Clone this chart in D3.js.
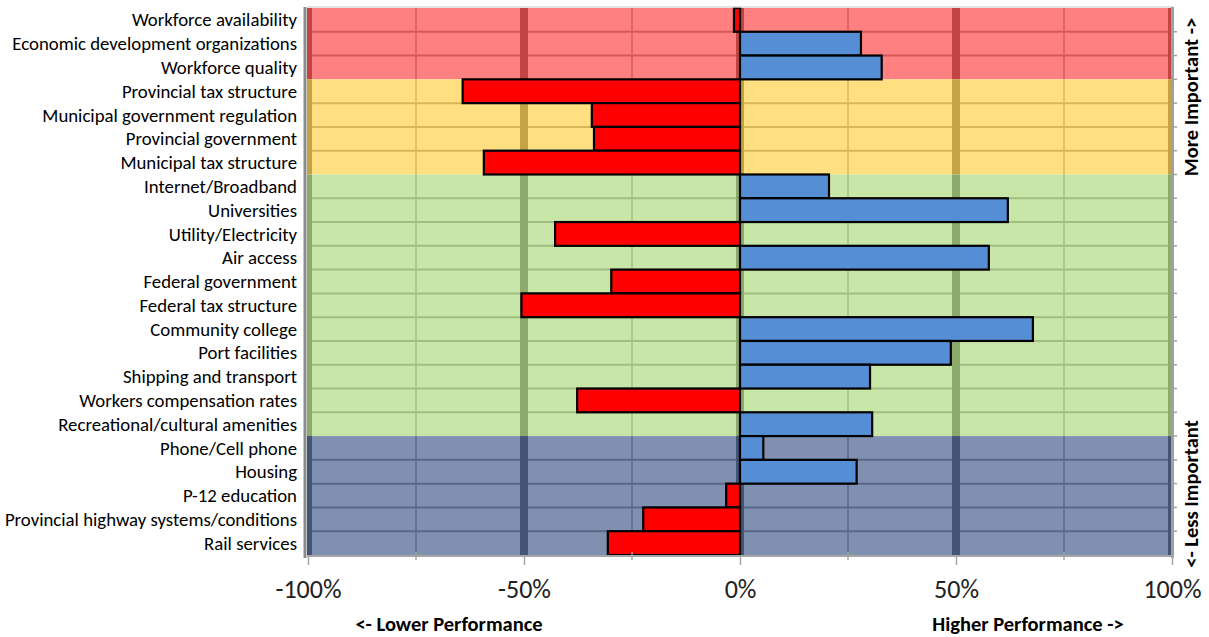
<!DOCTYPE html>
<html>
<head>
<meta charset="utf-8">
<script src="https://cdn.jsdelivr.net/npm/d3@7"></script>
<style>
  html, body { margin: 0; padding: 0; background: #fff; }
  svg { display: block; }
  text { font-family: "Carlito", "Open Sans", sans-serif; }
</style>
</head>
<body>
<svg id="chart" width="1209" height="637"></svg>
<script>
// Site-selection factors, ordered from most to least important
const categories = [
  "Workforce availability",
  "Economic development organizations",
  "Workforce quality",
  "Provincial tax structure",
  "Municipal government regulation",
  "Provincial government",
  "Municipal tax structure",
  "Internet/Broadband",
  "Universities",
  "Utility/Electricity",
  "Air access",
  "Federal government",
  "Federal tax structure",
  "Community college",
  "Port facilities",
  "Shipping and transport",
  "Workers compensation rates",
  "Recreational/cultural amenities",
  "Phone/Cell phone",
  "Housing",
  "P-12 education",
  "Provincial highway systems/conditions",
  "Rail services"
];

// Net performance rating (percent)
const performance = [
  -1.4, 28.0, 32.8, -64.2, -34.3, -33.8, -59.3, 20.6, 62.0, -42.8, 57.6, -29.8,
  -50.6, 67.8, 48.8, 30.1, -37.7, 30.6, 5.4, 27.0, -3.2, -22.4, -30.6
];

// Importance tiers: number of factors in each tier, top to bottom
const tierSizes = [3, 4, 11, 5];

const xTicks = [-100, -50, 0, 50, 100];
const xMinorTicks = [-75, -25, 25, 75];
const xTickLabels = ["-100%", "-50%", "0%", "50%", "100%"];

// Styling
const tierFill = ["#FF8080", "#FFDF80", "#C8E6A8", "#8090B1"];
const negFill = "#FF0000";
const posFill = "#558ED5";

const svg = d3.select("#chart");
const plotL = 307, plotR = 1171, plotT = 8, plotB = 555;

const x = d3.scaleLinear().domain([-100, 100]).range([308, 1172]);
const y = d3.scaleBand().domain(categories).range([plotT, plotB]).padding(0);
const rowH = y.bandwidth();

const shade = (c, k) => {
  const r = d3.rgb(c);
  return d3.rgb(Math.max(0, r.r - k), Math.max(0, r.g - k), Math.max(0, r.b - k)).formatHex();
};

// Plot clip
svg.append("defs").append("clipPath").attr("id", "plot")
  .append("rect").attr("x", plotL).attr("y", plotT).attr("width", plotR - plotL).attr("height", plotB - plotT);

const plot = svg.append("g").attr("clip-path", "url(#plot)");

// Tier background bands with their own tinted grid
let start = 0;
tierSizes.forEach((n, i) => {
  const rows = categories.slice(start, start + n);
  const y0 = y(rows[0]);
  const y1 = y(rows[rows.length - 1]) + rowH;
  const g = plot.append("g");
  g.append("rect")
    .attr("x", plotL).attr("y", y0).attr("width", plotR - plotL).attr("height", y1 - y0)
    .attr("fill", tierFill[i]);
  // minor vertical gridlines
  g.selectAll("line.minor").data(xMinorTicks).join("line").attr("class", "minor")
    .attr("x1", d => x(d)).attr("x2", d => x(d))
    .attr("y1", y0).attr("y2", y1)
    .attr("stroke", shade(tierFill[i], 35)).attr("stroke-width", 1.6);
  // row separators
  g.selectAll("line.row").data(rows.slice(1)).join("line").attr("class", "row")
    .attr("x1", plotL).attr("x2", plotR)
    .attr("y1", d => y(d)).attr("y2", d => y(d))
    .attr("stroke", shade(tierFill[i], 40)).attr("stroke-width", 2);
  // major vertical gridlines
  g.selectAll("line.major").data(xTicks).join("line").attr("class", "major")
    .attr("x1", d => x(d)).attr("x2", d => x(d))
    .attr("y1", y0).attr("y2", y1)
    .attr("stroke", shade(tierFill[i], 60)).attr("stroke-width", 8);
  start += n;
});

// Performance bars
svg.append("g").selectAll("rect").data(categories).join("rect")
  .attr("x", (d, i) => x(Math.min(0, performance[i])))
  .attr("y", d => y(d))
  .attr("width", (d, i) => Math.abs(x(performance[i]) - x(0)))
  .attr("height", rowH)
  .attr("fill", (d, i) => performance[i] < 0 ? negFill : posFill)
  .attr("stroke", "#000").attr("stroke-width", 2.2);

// Frame lines
svg.append("line").attr("x1", plotL).attr("x2", plotR + 2).attr("y1", plotT - 1).attr("y2", plotT - 1)
  .attr("stroke", "#d9d9d9").attr("stroke-width", 1.5);
svg.append("line").attr("x1", 305).attr("x2", 305).attr("y1", plotT - 1).attr("y2", plotB + 3)
  .attr("stroke", "#8c8c8c").attr("stroke-width", 3);
svg.append("line").attr("x1", plotR + 1.5).attr("x2", plotR + 1.5).attr("y1", plotT - 1).attr("y2", plotB + 3)
  .attr("stroke", "#a0a0a0").attr("stroke-width", 3);
// right axis ticks at row boundaries
svg.append("g").selectAll("line").data(categories.slice(1)).join("line")
  .attr("x1", plotR + 3).attr("x2", plotR + 6)
  .attr("y1", d => y(d)).attr("y2", d => y(d))
  .attr("stroke", "#a0a0a0").attr("stroke-width", 1.5);

// Bottom axis
const xAxis = d3.axisBottom(x).tickValues(xTicks)
  .tickFormat((d, i) => xTickLabels[i]).tickSize(9);
const ax = svg.append("g").attr("transform", `translate(0,${plotB + 1})`).call(xAxis);
ax.select(".domain").attr("stroke", "#a6a6a6").attr("stroke-width", 2)
  .attr("d", `M${plotL},0H${plotR + 3}`);
ax.selectAll(".tick line").attr("stroke", "#a6a6a6").attr("stroke-width", 1.5);
ax.selectAll(".tick text").attr("y", 42).attr("dy", 0)
  .attr("font-size", 26).attr("fill", "#222")
  .style("font-family", "Carlito, 'Open Sans', sans-serif");
ax.selectAll("line.minorTick").data(xMinorTicks).join("line")
  .attr("class", "minorTick")
  .attr("x1", d => x(d)).attr("x2", d => x(d)).attr("y1", -4).attr("y2", 4)
  .attr("stroke", "#a6a6a6").attr("stroke-width", 1.5);

// Category labels
svg.append("g").selectAll("text").data(categories).join("text")
  .attr("x", 297).attr("y", d => y(d) + rowH / 2)
  .attr("dy", "0.35em").attr("text-anchor", "end")
  .attr("font-size", 18.8).attr("fill", "#000")
  .text(d => d);

// Axis titles
svg.append("text").attr("x", 449).attr("y", 631).attr("text-anchor", "middle")
  .attr("font-size", 20.5).attr("font-weight", "bold").text("<- Lower Performance");
svg.append("text").attr("x", 1028).attr("y", 631).attr("text-anchor", "middle")
  .attr("font-size", 20.5).attr("font-weight", "bold").text("Higher Performance ->");
svg.append("text").attr("transform", "translate(1198,97) rotate(-90)").attr("text-anchor", "middle")
  .attr("font-size", 20.5).attr("font-weight", "bold").text("More Important ->");
svg.append("text").attr("transform", "translate(1198,494) rotate(-90)").attr("text-anchor", "middle")
  .attr("font-size", 20.5).attr("font-weight", "bold").text("<- Less Important");
</script>
</body>
</html>
